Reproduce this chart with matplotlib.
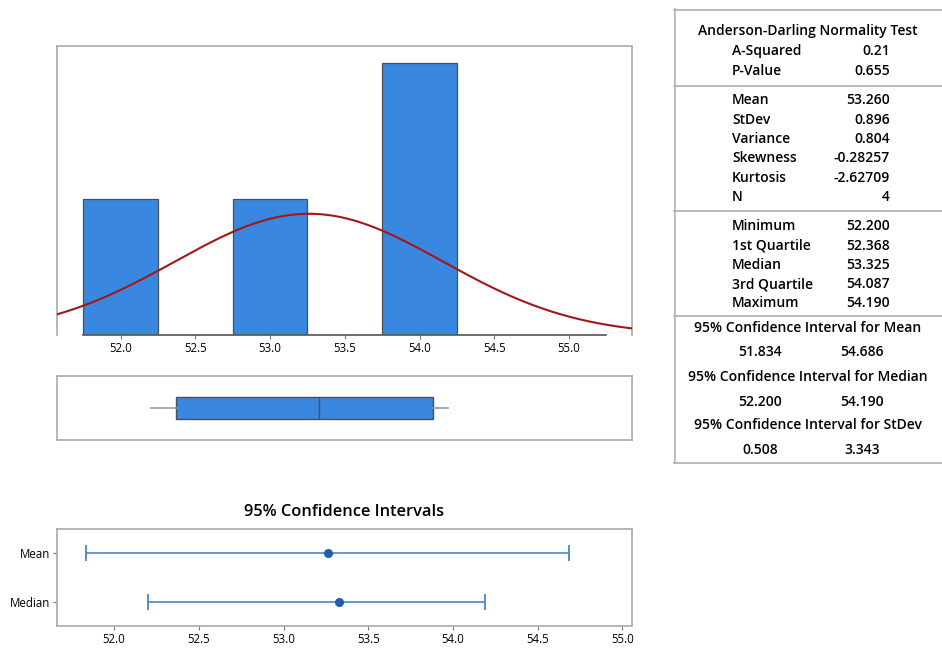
import numpy as np
import matplotlib
matplotlib.use('Agg')
from matplotlib import pyplot as plt

plt.rcParams['font.family'] = ['Open Sans', 'DejaVu Sans']

# data (4 observations, recovered from the summary table)
data = [52.2, 52.872, 53.778, 54.19]
mean, stdev = 53.260, 0.896
q1, median, q3 = 52.368, 53.325, 54.087
vmin, vmax = 52.200, 54.190
ci_names = ['Mean', 'Median']
ci_center = [53.260, 53.325]
ci_low = [51.834, 52.200]
ci_high = [54.686, 54.190]
xticks = [52.0, 52.5, 53.0, 53.5, 54.0, 54.5, 55.0]

# summary table rows
ad_labels = ['A-Squared', 'P-Value']
ad_values = ['0.21', '0.655']
mom_labels = ['Mean', 'StDev', 'Variance', 'Skewness', 'Kurtosis', 'N']
mom_values = ['53.260', '0.896', '0.804', '-0.28257', '-2.62709', '4']
q_labels = ['Minimum', '1st Quartile', 'Median', '3rd Quartile', 'Maximum']
q_values = ['52.200', '52.368', '53.325', '54.087', '54.190']
ci_titles = ['95% Confidence Interval for Mean',
             '95% Confidence Interval for Median',
             '95% Confidence Interval for StDev']
ci_pairs = [('51.834', '54.686'), ('52.200', '54.190'), ('0.508', '3.343')]

BLUE = '#3a87e0'
EDGE = '#46505e'
FRAME = '#aaaaaa'
RED = '#a01818'

W, H = 942, 649
fig = plt.figure(figsize=(W / 100, H / 100), dpi=100)


def px_axes(x0, y0, x1, y1):
    return fig.add_axes([x0 / W, 1 - y1 / H, (x1 - x0) / W, (y1 - y0) / H])


# histogram + normal fit
ax = px_axes(57.3, 45.7, 631.7, 335)
bins = np.arange(51.75, 54.26, 0.5)
ax.hist(data, bins=bins, color=BLUE, edgecolor=EDGE, linewidth=0.9, zorder=2)
xs = np.linspace(51.576, 55.42, 300)
ys = len(data) * 0.5 * np.exp(-0.5 * ((xs - mean) / stdev) ** 2) / (stdev * np.sqrt(2 * np.pi))
ax.plot(xs, ys, color=RED, lw=1.5, zorder=3)
ax.set_xlim(51.576, 55.42)
ax.set_ylim(0, 2.125)
ax.set_yticks([])
ax.set_xticks(xticks)
ax.set_xticklabels(['%.1f' % t for t in xticks], fontsize=8.3)
ax.tick_params(axis='x', length=3, color='#777777', pad=2)
for s in ['left', 'top', 'right']:
    ax.spines[s].set_color(FRAME)
    ax.spines[s].set_linewidth(1.2)
ax.spines['bottom'].set_bounds(51.75, 55.25)
ax.spines['bottom'].set_color('#555555')
ax.spines['bottom'].set_linewidth(1.2)

# boxplot
axb = px_axes(57.3, 376, 631.7, 440.3)
axb.bxp([dict(med=median, q1=q1, q3=q3, whislo=vmin, whishi=vmax)],
        vert=False, showfliers=False, widths=0.34, patch_artist=True,
        boxprops=dict(facecolor=BLUE, edgecolor=EDGE, linewidth=1),
        medianprops=dict(color=EDGE, linewidth=1),
        whiskerprops=dict(color='#999999', linewidth=1.2),
        capprops=dict(linewidth=0))
axb.set_xlim(51.576, 55.42)
axb.set_ylim(0.5, 1.5)
axb.set_xticks([])
axb.set_yticks([])
for s in axb.spines.values():
    s.set_color(FRAME)
    s.set_linewidth(1.2)

# confidence intervals
axc = px_axes(57.3, 528.7, 631.7, 626)
ypos = [1, 0]
err = [np.array(ci_center) - np.array(ci_low), np.array(ci_high) - np.array(ci_center)]
axc.errorbar(ci_center, ypos, xerr=err, fmt='o', color='#4a86c8', ecolor='#4a86c8',
             mfc='#1f5faa', mec='#1f5faa', ms=5.5, capsize=5.5, elinewidth=1.2,
             capthick=1.3)
axc.set_xlim(51.665, 55.055)
axc.set_ylim(-0.49, 1.49)
axc.set_xticks(xticks)
axc.set_xticklabels(['%.1f' % t for t in xticks], fontsize=8.3)
axc.set_yticks(ypos)
axc.set_yticklabels(ci_names, fontsize=8.3)
axc.tick_params(length=3, color='#777777', pad=2)
for s in axc.spines.values():
    s.set_color(FRAME)
    s.set_linewidth(1.2)
axc.set_title('95% Confidence Intervals', fontsize=11.8, fontweight='semibold', pad=9)

# summary table
axt = px_axes(674, 9, 942, 463)
axt.set_xlim(674, 942)
axt.set_ylim(463, 9)
axt.axis('off')
lc = '#b0b0b0'
axt.plot([674.5, 674.5], [9, 463], color=lc, lw=1.2, clip_on=False)
for yy in [9.5, 86, 211, 316, 462.5]:
    axt.plot([674, 942], [yy, yy], color=lc, lw=1.2, clip_on=False)

fs = 10
kw = dict(fontsize=fs, fontweight='semibold', va='center')
axt.text(808, 31, 'Anderson-Darling Normality Test', ha='center', **kw)
rows = list(zip(ad_labels, ad_values, [51, 71]))
rows += list(zip(mom_labels, mom_values, [100, 119.5, 139, 158.5, 178, 197]))
rows += list(zip(q_labels, q_values, [226, 245.5, 265, 284.5, 303]))
for lab, val, yy in rows:
    axt.text(732, yy, lab, ha='left', **kw)
    axt.text(890, yy, val, ha='right', **kw)
for (title, (lo, hi)), yt in zip(zip(ci_titles, ci_pairs), [328, 377, 425]):
    axt.text(808, yt, title, ha='center', **kw)
    axt.text(760, yt + 24.5, lo, ha='center', **kw)
    axt.text(862, yt + 24.5, hi, ha='center', **kw)

fig.savefig('out.png', dpi=100)
